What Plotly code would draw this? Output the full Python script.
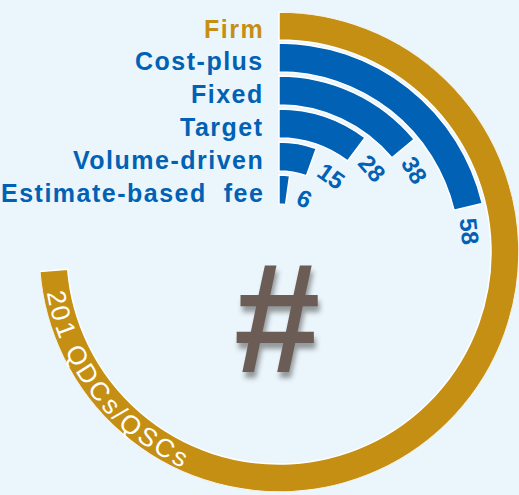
import math
import plotly.graph_objects as go

# ---- data ----
categories = ["Firm", "Cost-plus", "Fixed", "Target", "Volume-driven", "Estimate-based\u00a0 fee"]
values = [201, 58, 38, 28, 15, 6]
ring_caption = "201 QDCs/QSCs"
center_symbol = "#"

# ---- geometry / style ----
W, H = 519, 495
CX, CY = 279, 252            # dial centre in page pixels
R = 240                      # radial axis length (1 unit = 1 px)
DEG_PER_UNIT = 1.32          # angular scale of the bars
ring_outer = [240, 209, 176, 143, 110, 77]
ring_thick = [28, 29, 29, 29, 29, 29]

GOLD = "#C58F14"
BLUE = "#0061B5"
BG = "#EBF6FC"
HASH = "#6B5D55"
ring_colors = [GOLD] + [BLUE] * (len(values) - 1)
label_colors = [GOLD] + [BLUE] * (len(values) - 1)

sweep = [v * DEG_PER_UNIT for v in values]
ring_mid = [o - t / 2 for o, t in zip(ring_outer, ring_thick)]


def to_xy(r, deg):
    a = math.radians(deg)
    return r * math.sin(a), r * math.cos(a)


dom_x = [(CX - R) / W, (CX + R) / W]
dom_y = [(H - CY - R) / H, (H - CY + R) / H]

fig = go.Figure()

fig.add_trace(go.Barpolar(
    r=ring_thick,
    base=[o - t for o, t in zip(ring_outer, ring_thick)],
    theta=[s / 2 for s in sweep],
    width=sweep,
    marker=dict(color=ring_colors, line=dict(color="white", width=1.5)),
    hoverinfo="skip",
    showlegend=False,
))

# centre symbol on an overlaid cartesian frame sharing the dial's pixel scale
fig.add_trace(go.Scatter(
    x=[-2], y=[-81], mode="text", text=[center_symbol],
    textposition="middle center",
    textfont=dict(family="Liberation Sans", size=155, color=HASH, weight="bold",
                  shadow="2px 6px 5px rgba(40,40,40,0.45)"),
    hoverinfo="skip", showlegend=False,
))

annotations = []

# category labels, right-aligned against the start of each ring
for name, rm, col in zip(categories, ring_mid, label_colors):
    x, y = to_xy(rm, 0)
    annotations.append(dict(
        x=x, y=y, xref="x", yref="y", xanchor="right", yanchor="middle",
        xshift=-13, yshift=-3, showarrow=False,
        text=f'<span style="letter-spacing:1.5px">{name}</span>',
        font=dict(family="Liberation Sans", size=25, color=col, weight="bold"),
    ))

# value labels following the end of each blue bar
for v, s, rm in zip(values[1:], sweep[1:], ring_mid[1:]):
    r_t = rm - 3
    half_w = len(str(v)) * 0.556 * 24 / 2
    ang = s + math.degrees((11 + half_w) / r_t)
    x, y = to_xy(r_t, ang)
    annotations.append(dict(
        x=x, y=y, xref="x", yref="y", xanchor="center", yanchor="middle",
        textangle=ang, showarrow=False, text=str(v),
        font=dict(family="Liberation Sans", size=24, color=BLUE, weight="bold"),
    ))

# caption set along the gold ring, one glyph at a time
adv = {"2": .556, "0": .556, "1": .556, " ": .278, "Q": .778, "D": .722,
       "C": .722, "s": .5, "/": .278, "S": .667}
cap_size = 26
cap_space = 2.1
cap_r = 227
theta0 = 258.5
dist = 0.0
prev = None
for ch in ring_caption:
    if prev is not None:
        dist += (adv[prev] + adv[ch]) / 2 * cap_size + cap_space
    ang = theta0 - math.degrees(dist / cap_r)
    prev = ch
    if ch == " ":
        continue
    x, y = to_xy(cap_r, ang)
    annotations.append(dict(
        x=x, y=y, xref="x", yref="y", xanchor="center", yanchor="middle",
        textangle=ang - 180, showarrow=False, text=ch,
        font=dict(family="Liberation Sans", size=cap_size, color="white"),
    ))

fig.update_layout(
    width=W, height=H,
    margin=dict(l=0, r=0, t=0, b=0),
    paper_bgcolor=BG, plot_bgcolor="rgba(0,0,0,0)",
    polar=dict(
        domain=dict(x=dom_x, y=dom_y),
        bgcolor="rgba(0,0,0,0)",
        radialaxis=dict(range=[0, R], visible=False),
        angularaxis=dict(visible=False, rotation=90, direction="clockwise"),
    ),
    xaxis=dict(domain=dom_x, range=[-R, R], visible=False, fixedrange=True),
    yaxis=dict(domain=dom_y, range=[-R, R], visible=False, fixedrange=True),
    annotations=annotations,
    hovermode=False,
)

fig.write_html("out.html")
